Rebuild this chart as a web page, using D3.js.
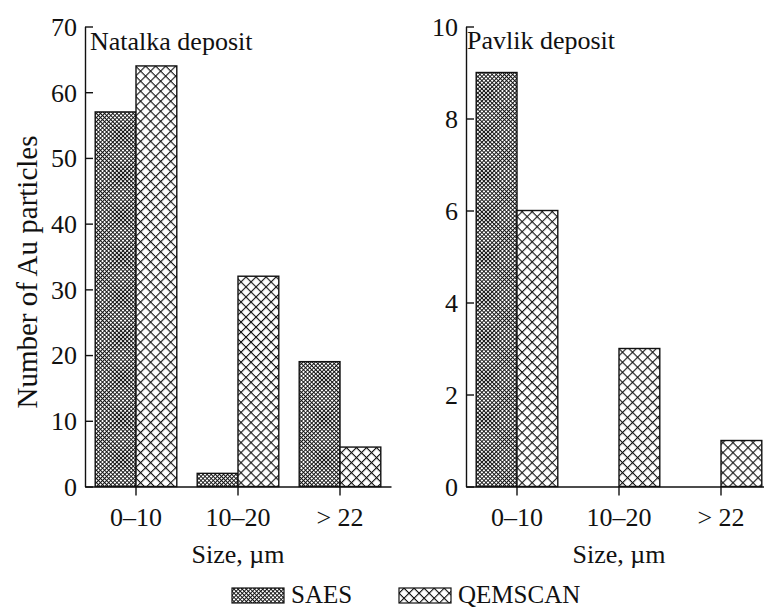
<!DOCTYPE html>
<html>
<head>
<meta charset="utf-8">
<script src="https://cdn.jsdelivr.net/npm/d3@7"></script>
<style>
  html, body { margin: 0; padding: 0; background: #fff; }
  svg { display: block; }
</style>
</head>
<body>
<svg id="chart" width="764" height="610"></svg>
<script>
// ---- data ----
const categories = ["0\u201310", "10\u201320", "> 22"];
const seriesNames = ["SAES", "QEMSCAN"];
const natalkaSAES = [57, 2, 19];
const natalkaQEMSCAN = [64, 32, 6];
const pavlikSAES = [9, 0, 0];
const pavlikQEMSCAN = [6, 3, 1];
const natalkaTicks = [0, 10, 20, 30, 40, 50, 60, 70];
const pavlikTicks = [0, 2, 4, 6, 8, 10];
const panelTitles = ["Natalka deposit", "Pavlik deposit"];
const xTitle = "Size, \u00b5m";
const yTitle = "Number of Au particles";

const svg = d3.select("#chart");
const FAMILY = '"Liberation Serif"';
const INK = "#111";
function styleText(sel, size) {
  return sel.style("font-family", FAMILY).style("font-size", size + "px").style("fill", INK);
}

// ---- patterns ----
const defs = svg.append("defs");
function crossPattern(id, p, w) {
  const pat = defs.append("pattern")
    .attr("id", id)
    .attr("patternUnits", "userSpaceOnUse")
    .attr("width", p).attr("height", p)
    .attr("patternTransform", "rotate(45)");
  pat.append("rect").attr("width", p).attr("height", p).attr("fill", "#fff");
  pat.append("rect").attr("x", 0).attr("y", 0).attr("width", w).attr("height", p).attr("fill", "#111");
  pat.append("rect").attr("x", 0).attr("y", 0).attr("width", p).attr("height", w).attr("fill", "#111");
}
crossPattern("pSAES", 2.9, 0.95);
crossPattern("pQEM", 7.1, 1.1);
const fills = { SAES: "url(#pSAES)", QEMSCAN: "url(#pQEM)" };

// ---- panel drawing ----
function panel(cfg) {
  const x = d3.scaleBand().domain(categories).range([cfg.x0, cfg.x1])
    .paddingInner(0.2).paddingOuter(0.1);
  const xs = d3.scaleBand().domain(seriesNames).range([0, x.bandwidth()]);
  const y = d3.scaleLinear().domain([0, cfg.max]).range([cfg.yBottom, cfg.yTop]);

  const g = svg.append("g");
  const rows = categories.map((c, i) => ({ c, SAES: cfg.saes[i], QEMSCAN: cfg.qem[i] }));
  const bars = [];
  rows.forEach(r => seriesNames.forEach(s => { if (r[s] > 0) bars.push({ c: r.c, s, v: r[s] }); }));

  g.selectAll("rect.bar").data(bars).join("rect")
    .attr("class", "bar")
    .attr("x", d => x(d.c) + xs(d.s))
    .attr("width", xs.bandwidth())
    .attr("y", d => y(d.v))
    .attr("height", d => y(0) - y(d.v))
    .attr("fill", d => fills[d.s])
    .attr("stroke", INK).attr("stroke-width", 1.4);

  // y axis
  const ya = g.append("g").attr("transform", `translate(${cfg.x0},0)`)
    .call(d3.axisLeft(y).tickValues(cfg.ticks).tickSizeInner(-8).tickSizeOuter(0).tickPadding(8));
  // x axis
  const xa = g.append("g").attr("transform", `translate(0,${cfg.yBottom})`)
    .call(d3.axisBottom(x).tickSizeInner(9).tickSizeOuter(0));
  [ya, xa].forEach(a => {
    a.attr("font-family", null).attr("font-size", null);
    a.select(".domain").attr("stroke", INK).attr("stroke-width", 1.4);
    a.selectAll(".tick line").attr("stroke", INK).attr("stroke-width", 1.4);
    styleText(a.selectAll("text"), 26);
  });
  ya.selectAll(".tick text").attr("dy", "0.34em");
  xa.selectAll(".tick text").attr("y", 39).attr("dy", 0);

  styleText(g.append("text").attr("x", cfg.titleX).attr("y", cfg.titleY), 26).text(cfg.title);
  styleText(g.append("text").attr("x", (cfg.x0 + cfg.x0 + 306) / 2).attr("y", 563)
    .attr("text-anchor", "middle"), 26).text(xTitle);
}

panel({ x0: 85, x1: 391, yTop: 26.5, yBottom: 486.5, max: 70, ticks: natalkaTicks,
        saes: natalkaSAES, qem: natalkaQEMSCAN, title: panelTitles[0], titleX: 90, titleY: 50 });
panel({ x0: 466, x1: 772, yTop: 26.5, yBottom: 486.5, max: 10, ticks: pavlikTicks,
        saes: pavlikSAES, qem: pavlikQEMSCAN, title: panelTitles[1], titleX: 467, titleY: 49 });

// y title
styleText(svg.append("text").attr("transform", "translate(37,272) rotate(-90)")
  .attr("text-anchor", "middle"), 29).text(yTitle);

// legend
const legendX = [232, 399];
seriesNames.forEach((s, i) => {
  const lg = svg.append("g").attr("transform", `translate(${legendX[i]},0)`);
  lg.append("rect").attr("x", 0).attr("y", 588).attr("width", 52).attr("height", 15)
    .attr("fill", fills[s]).attr("stroke", INK).attr("stroke-width", 1.2);
  styleText(lg.append("text").attr("x", 59).attr("y", 603), 25).text(s);
});
</script>
</body>
</html>
